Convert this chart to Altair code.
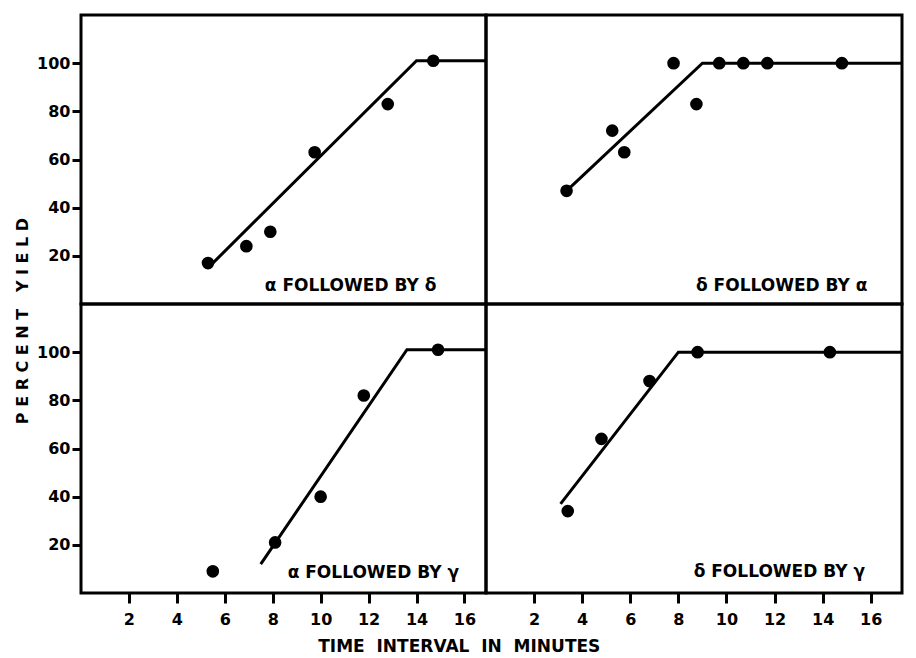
import altair as alt
import pandas as pd

# ---- data ----
x_ticks = [2, 4, 6, 8, 10, 12, 14, 16]
y_ticks = [20, 40, 60, 80, 100]

# top-left: alpha followed by delta
tl_x = [5.3, 6.9, 7.9, 9.75, 12.8, 14.7]
tl_y = [17, 24, 30, 63, 83, 101]
tl_line_x = [5.3, 14.0, 17.5]
tl_line_y = [15, 101, 101]

# top-right: delta followed by alpha
tr_x = [3.35, 5.25, 5.75, 7.8, 8.75, 9.7, 10.7, 11.7, 14.8]
tr_y = [47, 72, 63, 100, 83, 100, 100, 100, 100]
tr_line_x = [3.35, 9.0, 17.5]
tr_line_y = [47, 100, 100]

# bottom-left: alpha followed by gamma
bl_x = [5.5, 8.1, 10.0, 11.8, 14.9]
bl_y = [9, 21, 40, 82, 101]
bl_line_x = [7.5, 13.6, 17.5]
bl_line_y = [12, 101, 101]

# bottom-right: delta followed by gamma
br_x = [3.4, 4.8, 6.8, 8.8, 14.3]
br_y = [34, 64, 88, 100, 100]
br_line_x = [3.1, 8.0, 17.5]
br_line_y = [37, 100, 100]

labels = ["α FOLLOWED BY δ", "δ FOLLOWED BY α", "α FOLLOWED BY γ", "δ FOLLOWED BY γ"]
label_x = [11.25, 12.3, 12.2, 12.2]
label_y = [7.4, 7.6, 8.5, 8.8]

FONT = "DejaVu Sans"
NB = "\u00a0"


def panel(px, py, lx, ly, label, lab_x, lab_y, xmax, width, show_x, show_y):
    pts = pd.DataFrame({"x": px, "y": py})
    ln = pd.DataFrame({"x": lx, "y": ly})
    lab = pd.DataFrame({"x": [lab_x], "y": [lab_y], "t": [label]})
    xscale = alt.Scale(domain=[0, xmax], nice=False, zero=False)
    yscale = alt.Scale(domain=[0, 120], nice=False)
    if show_x:
        xaxis = alt.Axis(values=x_ticks, title=None, domain=False, grid=False,
                         tickSize=10, tickWidth=3, tickColor="black",
                         labelFont=FONT, labelFontSize=16, labelFontWeight="bold",
                         labelColor="black", labelPadding=8)
        x = alt.X("x:Q", scale=xscale, axis=xaxis)
    else:
        x = alt.X("x:Q", scale=xscale, axis=None)
    if show_y:
        yaxis = alt.Axis(values=y_ticks, title=None, domain=False, grid=False,
                         tickSize=9, tickWidth=3, tickColor="black",
                         labelFont=FONT, labelFontSize=16, labelFontWeight="bold",
                         labelColor="black", labelPadding=2)
        y = alt.Y("y:Q", scale=yscale, axis=yaxis)
    else:
        y = alt.Y("y:Q", scale=yscale, axis=None)

    line = alt.Chart(ln).mark_line(color="black", strokeWidth=3, clip=True).encode(x=x, y=y)
    dots = alt.Chart(pts).mark_circle(size=160, color="black", opacity=1).encode(x=x, y=y)
    txt = alt.Chart(lab).mark_text(font=FONT, fontSize=17, fontWeight="bold",
                                   color="black", align="center", baseline="middle").encode(
        x=x, y=y, text="t:N")
    return alt.layer(line, dots, txt).properties(width=width, height=289)


LW, RW = 405, 416
LX, RX = 16.9, 17.3

tl = panel(tl_x, tl_y, tl_line_x, tl_line_y, labels[0], label_x[0], label_y[0], LX, LW, False, True)
tr = panel(tr_x, tr_y, tr_line_x, tr_line_y, labels[1], label_x[1], label_y[1], RX, RW, False, False)
bl = panel(bl_x, bl_y, bl_line_x, bl_line_y, labels[2], label_x[2], label_y[2], LX, LW, True, True)
br = panel(br_x, br_y, br_line_x, br_line_y, labels[3], label_x[3], label_y[3], RX, RW, True, False)

y_title = NB.join(list("PERCENT")) + NB * 3 + NB.join(list("YIELD"))
x_title = "TIME" + NB * 2 + "INTERVAL" + NB * 2 + "IN" + NB * 2 + "MINUTES"

grid = alt.concat(tl, tr, bl, br, columns=2, spacing=0, bounds="flush").properties(
    title=alt.TitleParams(y_title, orient="left", anchor="middle", font=FONT,
                          fontSize=16, fontWeight="bold", color="black", offset=4)
)

chart = alt.vconcat(grid, spacing=0).properties(
    title=alt.TitleParams(x_title, orient="bottom", anchor="middle", font=FONT,
                          fontSize=17, fontWeight="bold", color="black", offset=10),
    padding={"left": 7, "top": 5, "right": 0, "bottom": 0},
    background="white",
).configure_view(stroke="black", strokeWidth=3)

chart.save("out.html", embed_options={"renderer": "svg", "actions": False})
